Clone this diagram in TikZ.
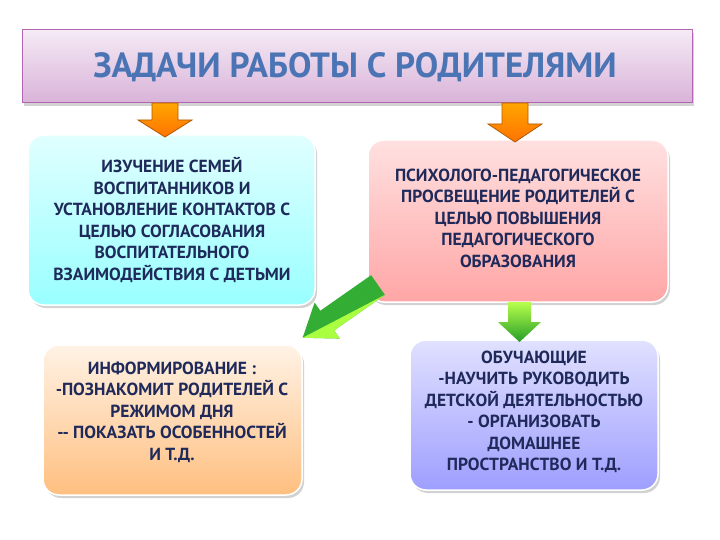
\documentclass[tikz,border=0pt]{standalone}
\usepackage{fontspec}
\setmainfont{PT Sans}
\usetikzlibrary{shadows}
\definecolor{txt}{HTML}{1F2A5A}
\tikzset{
 box/.style={rounded corners=16pt, draw=white, line width=1.5pt, drop shadow={opacity=0.35,shadow xshift=2pt,shadow yshift=-3pt}},
 btxt/.style={text=txt, font=\bfseries\fontsize{17.5}{21.5}\selectfont, align=center},
 oarr/.style={draw=orange!70!black, line width=0.8pt, top color=orange!70!yellow, bottom color=orange!90!red},
 garr/.style={draw=none, top color=green!40!yellow!70!white, bottom color=green!55!black!85}
}
\begin{document}
\begin{tikzpicture}[x=1pt,y=-1pt]
\useasboundingbox (0,0) rectangle (720,540);
\fill[white] (0,0) rectangle (720,540);
\draw[box, draw=violet!60, line width=1pt, top color=violet!8, bottom color=violet!30, rounded corners=0pt] (22,30) rectangle (692,103);
\node (title) at (355,67) {\textcolor[HTML]{4A74B4}{\bfseries\fontsize{35}{40}\selectfont ЗАДАЧИ РАБОТЫ С РОДИТЕЛЯМИ}};
\draw[box, top color=cyan!12, bottom color=cyan!40] (28,135) rectangle (315,305);
\node[btxt] (b1) at (172,220) {ИЗУЧЕНИЕ СЕМЕЙ\\ВОСПИТАННИКОВ И\\УСТАНОВЛЕНИЕ КОНТАКТОВ С\\ЦЕЛЬЮ СОГЛАСОВАНИЯ\\ВОСПИТАТЕЛЬНОГО\\ВЗАИМОДЕЙСТВИЯ С ДЕТЬМИ};
\draw[box, top color=red!12, bottom color=red!35] (368,140) rectangle (668,302);
\node[btxt] (b2) at (518,218) {ПСИХОЛОГО-ПЕДАГОГИЧЕСКОЕ\\ПРОСВЕЩЕНИЕ РОДИТЕЛЕЙ С\\ЦЕЛЬЮ ПОВЫШЕНИЯ\\ПЕДАГОГИЧЕСКОГО\\ОБРАЗОВАНИЯ};
\draw[box, top color=orange!10, bottom color=orange!50] (43,345) rectangle (302,495);
\node[btxt] (b3) at (172,412) {ИНФОРМИРОВАНИЕ :\\-ПОЗНАКОМИТ РОДИТЕЛЕЙ С\\РЕЖИМОМ ДНЯ\\-{}- ПОКАЗАТЬ ОСОБЕННОСТЕЙ\\И Т.Д.};
\draw[box, top color=blue!12, bottom color=blue!38] (410,340) rectangle (658,490);
\node[btxt] (b4) at (534,412) {ОБУЧАЮЩИЕ\\-НАУЧИТЬ РУКОВОДИТЬ\\ДЕТСКОЙ ДЕЯТЕЛЬНОСТЬЮ\\- ОРГАНИЗОВАТЬ\\ДОМАШНЕЕ\\ПРОСТРАНСТВО И Т.Д.};
% orange arrows
\draw[oarr] (152,103) -- (178,103) -- (178,120) -- (192,120) -- (165,137) -- (138,120) -- (152,120) -- cycle;
\draw[oarr] (502,103) -- (528,103) -- (528,124) -- (542,124) -- (515,142) -- (488,124) -- (502,124) -- cycle;
% green down arrow
\draw[garr] (508,302) -- (531,302) -- (531,322) -- (541,322) -- (519.5,342) -- (498,322) -- (508,322) -- cycle;
% green diagonal arrow
\begin{scope}[shift={(378,285)}, rotate=215]
\fill[green!60!black!80] (0,-12) -- (62,-12) -- (62,-22) -- (92,0) -- (62,22) -- (62,12) -- (0,12) -- cycle;
\fill[green!45!yellow!75!white] (0,-12) -- (62,-12) -- (62,-22) -- (92,0) -- cycle;
\end{scope}
\end{tikzpicture}
\end{document}
